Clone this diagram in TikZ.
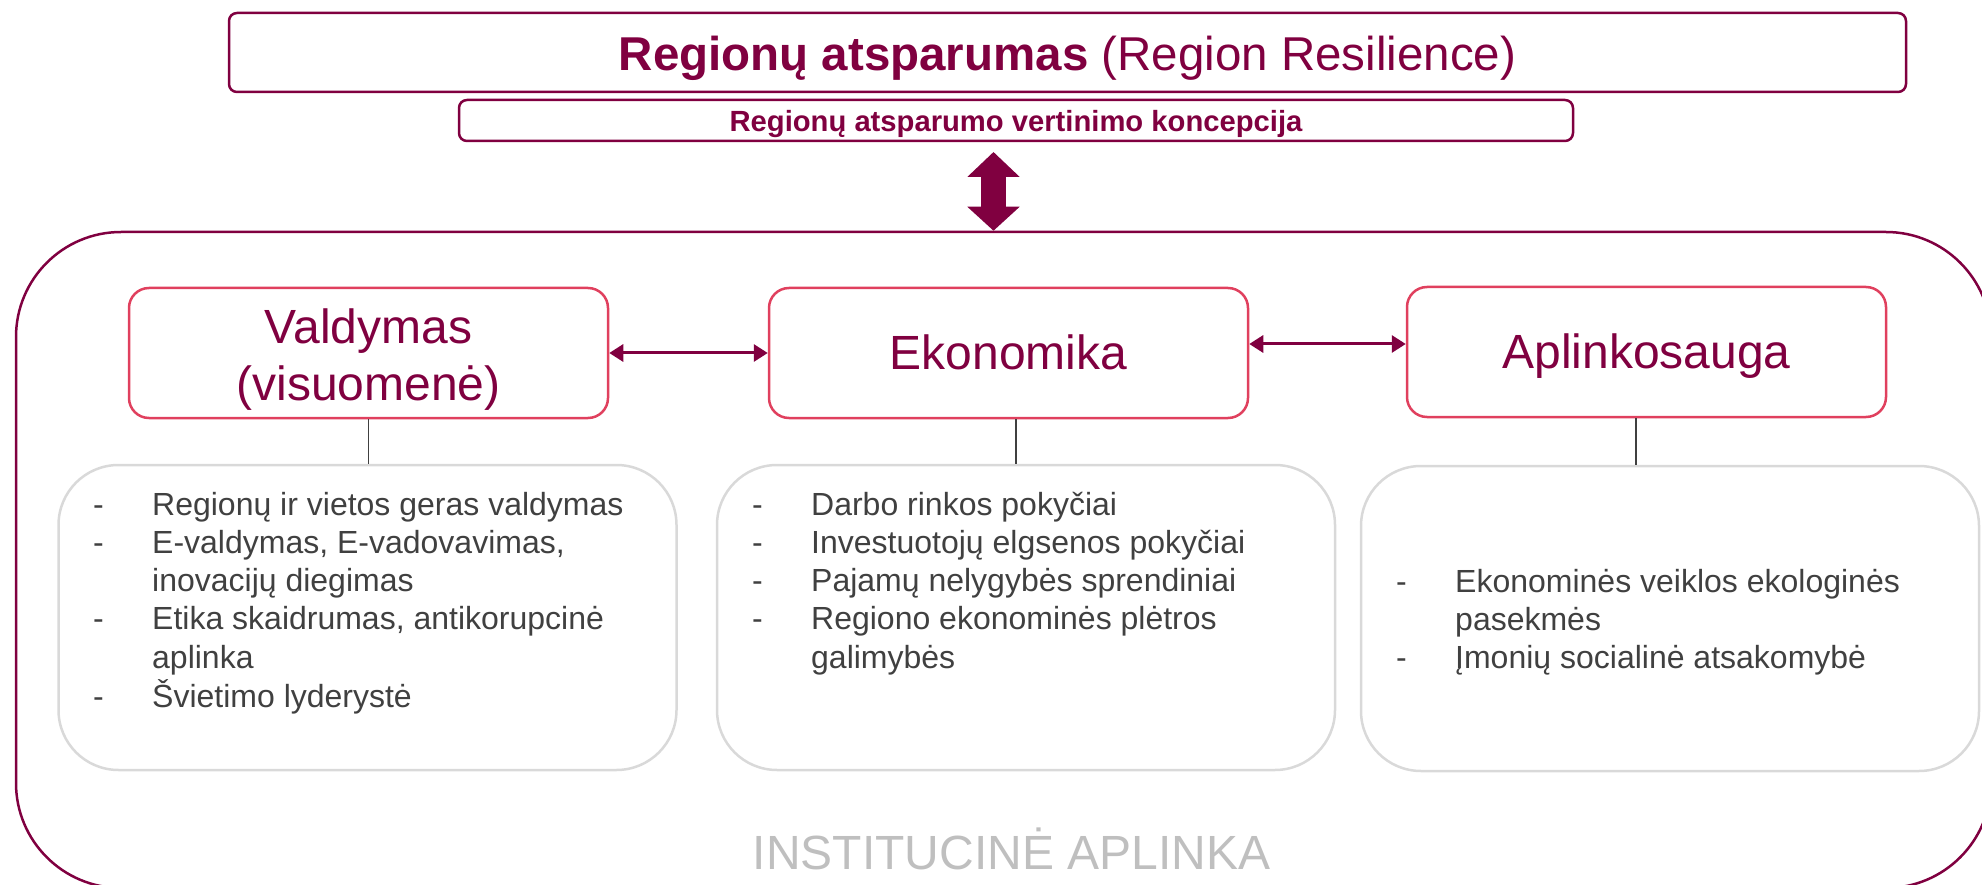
\documentclass[tikz,border=0pt]{standalone}
\usepackage{fontspec}
\setmainfont{Liberation Sans}
\usetikzlibrary{arrows.meta}
\definecolor{regred}{RGB}{128,0,64}
\definecolor{catred}{RGB}{224,64,94}
\definecolor{listgray}{RGB}{217,217,217}
\definecolor{textgray}{RGB}{64,64,64}
\definecolor{instgray}{RGB}{191,191,191}

\begin{document}
\begin{tikzpicture}[x=1pt,y=-1pt]
		\tikzstyle{every node}+=[inner sep=0pt]
		\tikzstyle{headbox}=[draw=regred, line width=2.5pt, rounded corners=8pt, text=regred]
		\tikzstyle{catbox}=[draw=catred, line width=2.5pt, rounded corners=20pt, minimum width=479pt, minimum height=130pt, text=regred, font=\fontsize{48}{57}\selectfont, align=center]
		\tikzstyle{listbox}=[draw=listgray, line width=2.5pt, rounded corners=60pt, minimum width=618pt, minimum height=305pt]
		\tikzstyle{listtext}=[anchor=base west, text=textgray, font=\fontsize{32}{38.3}\selectfont]
		\tikzstyle{link}=[regred, line width=3pt, {Triangle[length=14pt,width=17pt]}-{Triangle[length=14pt,width=17pt]}]
		\useasboundingbox (0,0) rectangle (1982,885);
		\clip (0,0) rectangle (1982,885);
		% heading
		\node [headbox, minimum width=1677pt, minimum height=79pt, text height=46pt, text depth=9pt, font=\fontsize{47.5}{56}\selectfont] (title) at (1067.5,52.5) {\textbf{Regionų atsparumas} (Region Resilience)};
		\node [headbox, minimum width=1114pt, minimum height=41pt, text height=28pt, text depth=6pt, font=\bfseries\fontsize{29.2}{35}\selectfont] (conc) at (1016,120.5) {Regionų atsparumo vertinimo koncepcija};
		% institutional frame
		\node [draw=regred, line width=2.5pt, rounded corners=105pt, minimum width=1975pt, minimum height=656pt] (inst) at (1003.5,560) {};
		\node [anchor=base, text=instgray, font=\fontsize{48}{58}\selectfont] (instlabel) at (1011.5,869) {INSTITUCINĖ APLINKA};
		\coordinate (arrtop) at (993.5,152);
		\draw [regred, line width=25pt, {Triangle[length=25pt,width=51pt]}-{Triangle[length=24pt,width=51pt]}] (arrtop) -- (arrtop |- inst.north);
		% categories
		\node [catbox] (vald) at (368.5,353) {\rule{0pt}{47pt}Valdymas\\(visuomenė)};
		\node [catbox, text height=44pt, text depth=10pt] (ekon) at (1008.5,353) {Ekonomika};
		\node [catbox, text height=44pt, text depth=10pt] (apl) at (1646.5,352) {Aplinkosauga};
		\draw [link] (vald.east) -- (vald.east -| ekon.west);
		\draw [link] ([yshift=9pt]ekon.east) -- ([yshift=9pt]ekon.east -| apl.west);
		% lists
		\node [listbox] (vlist) at (367.5,617.5) {};
		\node [listbox] (elist) at (1026,617.5) {};
		\node [listbox] (alist) at (1670,618.5) {};
		\draw [textgray, line width=1.2pt] (vald.south) -- (vald.south |- vlist.north);
		\draw [textgray, line width=1.2pt] ([xshift=7.5pt]ekon.south) -- ([xshift=7.5pt]ekon.south |- elist.north);
		\draw [textgray, line width=1.2pt] ([xshift=-10.5pt]apl.south) -- ([xshift=-10.5pt]apl.south |- alist.north);
		\node [listtext] (vtext) at (93,515) {\begin{tabular}[t]{@{}p{59pt}@{}l@{}}
			- & Regionų ir vietos geras valdymas\\
			- & E-valdymas, E-vadovavimas,\\
			  & inovacijų diegimas\\
			- & Etika skaidrumas, antikorupcinė\\
			  & aplinka\\
			- & Švietimo lyderystė
		\end{tabular}};
		\node [listtext] (etext) at (752,515) {\begin{tabular}[t]{@{}p{59pt}@{}l@{}}
			- & Darbo rinkos pokyčiai\\
			- & Investuotojų elgsenos pokyčiai\\
			- & Pajamų nelygybės sprendiniai\\
			- & Regiono ekonominės plėtros\\
			  & galimybės
		\end{tabular}};
		\node [listtext] (atext) at (1396,592) {\begin{tabular}[t]{@{}p{59pt}@{}l@{}}
			- & Ekonominės veiklos ekologinės\\
			  & pasekmės\\
			- & Įmonių socialinė atsakomybė
		\end{tabular}};
\end{tikzpicture}
\end{document}
